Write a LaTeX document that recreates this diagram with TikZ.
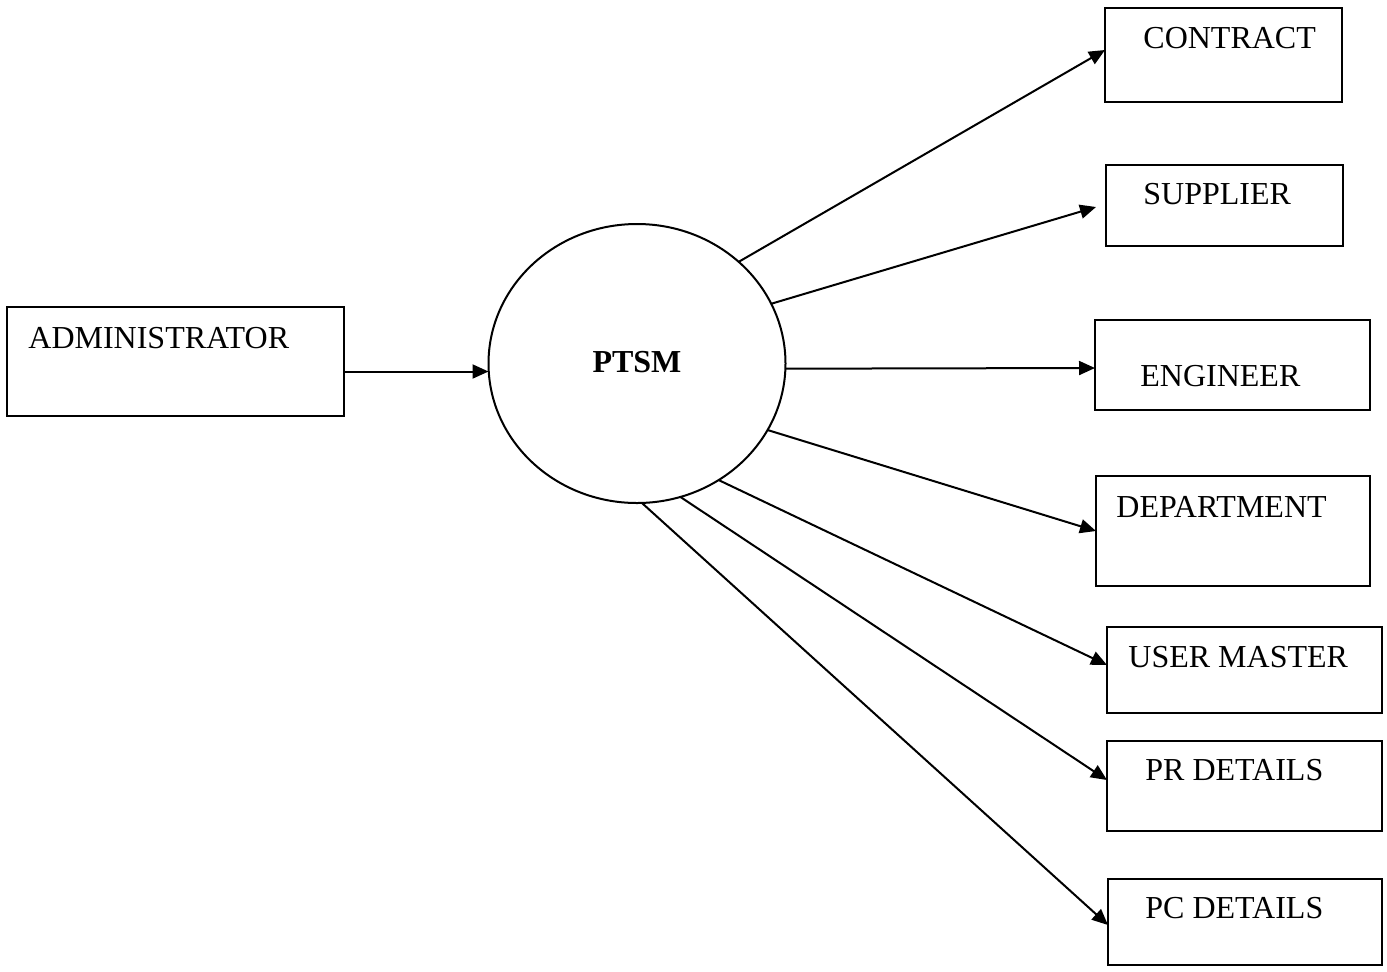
\documentclass[tikz,border=0pt]{standalone}
\usepackage{fontspec}
\setmainfont{Liberation Serif}
\usetikzlibrary{arrows.meta,shapes.geometric}

% one drawing unit = 0.5pt, y grows downward
\tikzset{
  box/.style={draw, line width=1pt, rectangle, inner sep=0pt, outer sep=0pt, anchor=north west},
  lbl/.style={anchor=base west, inner sep=0pt, font=\fontsize{16}{19}\selectfont},
  flow/.style={line width=1pt, -{Triangle[length=8pt,width=7pt]}},
}
\newcommand{\entity}[5]{%
  \node[box, minimum width={(#4-#2)*0.5pt}, minimum height={(#5-#3)*0.5pt}] (#1) at (#2,#3) {};}

\begin{document}
\begin{tikzpicture}[x=0.5pt, y=-0.5pt]
  \useasboundingbox[fill=white] (0,0) rectangle (1387,971);

  % entity boxes
  \entity{admin}{7}{307}{344}{416}
  \entity{contract}{1105}{8}{1342}{102}
  \entity{supplier}{1106}{165}{1343}{246}
  \entity{engineer}{1095}{320}{1370}{410}
  \entity{department}{1096}{476}{1370}{586}
  \entity{usermaster}{1107}{627}{1382}{713}
  \entity{prdetails}{1107}{741}{1382}{831}
  \entity{pcdetails}{1108}{879}{1382}{965}

  % box titles
  \node[lbl] (tadmin) at (28,348) {ADMINISTRATOR};
  \node[lbl] (tcontract) at (1143,48) {CONTRACT};
  \node[lbl] (tsupplier) at (1143,204) {SUPPLIER};
  \node[lbl] (tengineer) at (1140,386) {ENGINEER};
  \node[lbl] (tdepartment) at (1116,517) {DEPARTMENT};
  \node[lbl] (tusermaster) at (1128,667) {USER MASTER};
  \node[lbl] (tprdetails) at (1145,780) {PR DETAILS};
  \node[lbl] (tpcdetails) at (1145,918) {PC DETAILS};

  % central process
  \node[draw, line width=1pt, ellipse, inner sep=0pt, outer sep=0pt,
        minimum width=148.5pt, minimum height=139.5pt] (ptsm) at (637,363.5) {};
  \node[anchor=base, inner sep=0pt, font=\fontsize{16}{19}\selectfont\bfseries] (tptsm) at (637,372) {PTSM};

  % data flows
  \draw[flow] ([yshift=-5pt]admin.east) -- ([yshift=-5pt]admin.east -| ptsm.west);
  \draw[flow] (ptsm.45) -- ([yshift=2.5pt]contract.west);
  \draw[flow] (ptsm.24) -- ([xshift=-5pt,yshift=-0.75pt]supplier.west);
  \draw[flow] (ptsm.-2) -- ([yshift=-1.5pt]engineer.west);
  \draw[flow] (ptsm.-27) -- (department.west);
  \draw[flow] (ptsm.-55) -- ([yshift=2.5pt]usermaster.west);
  \draw[flow] (ptsm.-72) -- ([yshift=3pt]prdetails.west);
  \draw[flow] (ptsm.-88) -- ([yshift=-1.5pt]pcdetails.west);
\end{tikzpicture}
\end{document}
